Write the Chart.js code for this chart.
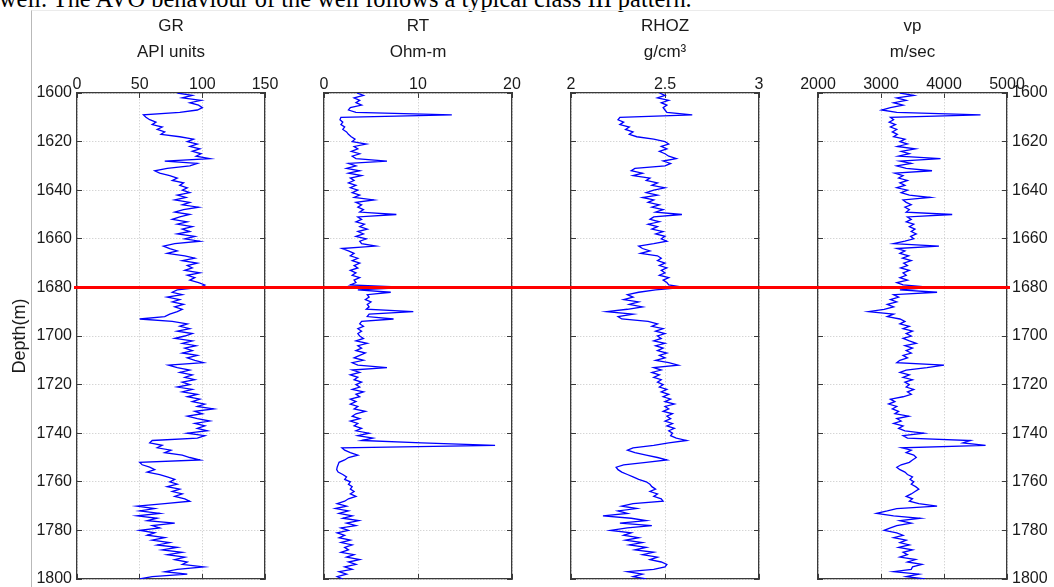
<!DOCTYPE html>
<html>
<head>
<meta charset="utf-8">
<script src="https://cdn.jsdelivr.net/npm/chart.js@4.4.0/dist/chart.umd.min.js"></script>
<style>
  html, body { margin: 0; padding: 0; background: #fff; overflow: hidden; }
  #page { position: relative; width: 1054px; height: 587px; overflow: hidden; }
  #caption { position: absolute; left: -1px; top: -13px; font: 24.4px "Liberation Serif", "Times New Roman", serif; line-height: 24px; white-space: nowrap; color: #000; }
  #frame { position: absolute; left: 31px; top: 10px; right: 0; bottom: 0; border-left: 1px solid #b9b9b9; border-top: 1px solid #ebebeb; }
  canvas { position: absolute; left: 0; top: 0; }
</style>
</head>
<body>
<div id="page">
  <div id="caption">well. The AVO behaviour of the well follows a typical class III pattern.</div>
  <div id="frame"></div>
  <canvas id="grChart" width="1054" height="587"></canvas>
  <canvas id="rtChart" width="1054" height="587"></canvas>
  <canvas id="rhozChart" width="1054" height="587"></canvas>
  <canvas id="vpChart" width="1054" height="587"></canvas>
  <canvas id="markerChart" width="1054" height="587"></canvas>
</div>
<script>
// depth samples: one value per metre from 1600 m
const depthStart = 1600;
const depthStep = 1;
const depthTicks = [1600, 1620, 1640, 1660, 1680, 1700, 1720, 1740, 1760, 1780, 1800];
const markerDepth = 1680;

const grTicks = [0, 50, 100, 150];
const rtTicks = [0, 10, 20];
const rhozTicks = [2, 2.5, 3];
const vpTicks = [2000, 3000, 4000, 5000];

const grValues = [
  80, 92, 84, 99, 90, 97, 100, 96, 82, 53,
  55, 58, 63, 60, 68, 64, 70, 67, 82, 93,
  88, 96, 90, 98, 92, 99, 95, 106, 70, 96,
  90, 72, 62, 66, 74, 80, 76, 85, 82, 88,
  84, 90, 80, 87, 78, 90, 84, 97, 85, 78,
  90, 82, 76, 88, 80, 92, 84, 90, 80, 94,
  86, 98, 78, 69, 74, 80, 72, 86, 94, 84,
  96, 88, 92, 86, 98, 88, 94, 90, 97, 102,
  98, 80, 76, 84, 72, 82, 76, 85, 78, 84,
  80, 74, 70, 50, 76, 88, 82, 90, 80, 92,
  86, 78, 92, 84, 95, 86, 92, 84, 96, 88,
  94, 101, 73, 80, 90, 82, 92, 86, 94, 84,
  90, 80, 92, 84, 96, 88, 98, 92, 102, 96,
  109, 94, 100, 88, 96, 106, 94, 102, 96, 104,
  88, 102, 96, 60, 58, 68, 64, 75, 70, 84,
  90, 98, 50, 52, 58, 62, 56, 66, 72, 78,
  74, 80, 72, 82, 76, 84, 78, 86, 90, 70,
  48, 62, 50, 66, 48, 64, 56, 78, 60, 66,
  50, 62, 56, 70, 60, 74, 64, 80, 68, 84,
  72, 86, 78, 88, 84, 101, 80, 70, 88, 60,
  50
];

const rtValues = [
  3.5, 4.2, 3.2, 3.8, 3.4, 4.0, 2.8, 2.6, 3.4, 13.6,
  1.8, 1.7, 2.0, 1.8, 2.2, 2.0, 2.4, 2.6, 2.9, 3.3,
  3.0, 4.5, 3.2, 3.6, 2.9, 3.8, 3.0, 3.4, 6.7, 2.6,
  3.4, 2.4, 3.8, 2.6, 4.0, 2.8, 3.2, 2.6, 3.4, 2.8,
  3.6, 3.0, 3.8, 3.2, 5.3, 3.4, 4.0, 3.6, 4.2, 3.8,
  7.7, 3.6, 4.0, 3.4, 4.3, 3.8, 4.6, 3.6, 4.2, 3.4,
  4.5, 3.8, 4.0, 5.5, 1.9, 2.6, 3.2, 2.8, 3.6, 3.0,
  3.8, 3.2, 3.6, 2.8, 3.4, 3.0, 3.8, 3.2, 3.4, 2.8,
  9.0, 3.6, 7.1, 4.6, 4.8, 4.4, 5.0, 4.6, 4.8, 4.5,
  9.5, 4.8, 4.6, 7.4, 4.0, 3.8, 4.2, 3.6, 4.0, 3.6,
  3.8, 4.2, 3.4, 4.6, 3.6, 4.0, 3.4, 4.4, 3.8, 3.2,
  4.2, 3.0, 3.6, 6.7, 3.0, 3.8, 2.8, 3.6, 3.2, 4.0,
  3.4, 3.8, 3.0, 4.2, 3.4, 3.8, 2.8, 3.4, 2.8, 3.6,
  3.2, 4.4, 3.4, 3.0, 3.8, 2.8, 3.6, 3.2, 4.0, 3.4,
  4.8, 3.6, 5.2, 4.0, 10.4, 18.2, 1.9, 2.2, 2.8, 3.6,
  2.6, 2.2, 1.6, 1.5, 1.4, 1.35, 1.5, 2.0, 2.4, 2.2,
  2.8, 2.6, 3.0, 2.8, 3.2, 2.8, 3.4, 2.6, 2.2, 1.4,
  2.4, 1.2, 2.6, 1.6, 3.0, 2.0, 3.7, 2.4, 3.4, 1.8,
  2.6, 1.4, 2.2, 1.6, 2.8, 1.8, 3.0, 2.2, 2.6, 1.8,
  3.2, 2.4, 3.8, 2.6, 3.4, 2.2, 3.0, 1.6, 2.4, 1.4,
  2.0
];

const rhozValues = [
  2.47, 2.50, 2.46, 2.52, 2.48, 2.51, 2.49, 2.50, 2.51, 2.645,
  2.26, 2.25, 2.28, 2.26, 2.31, 2.29, 2.33, 2.31, 2.35, 2.44,
  2.50, 2.52, 2.48, 2.51, 2.47, 2.50, 2.52, 2.56, 2.49, 2.53,
  2.50, 2.34, 2.32, 2.38, 2.33, 2.42, 2.40, 2.46, 2.43, 2.50,
  2.44, 2.40, 2.46, 2.38, 2.44, 2.41, 2.47, 2.43, 2.49, 2.45,
  2.59, 2.44, 2.42, 2.47, 2.41, 2.46, 2.43, 2.49, 2.45, 2.50,
  2.48, 2.51, 2.44, 2.36, 2.38, 2.42, 2.37, 2.46, 2.48, 2.46,
  2.50, 2.47, 2.51, 2.48, 2.50, 2.47, 2.52, 2.49, 2.51, 2.52,
  2.60, 2.45, 2.36, 2.30, 2.33, 2.28, 2.36, 2.31, 2.38, 2.30,
  2.19, 2.33, 2.25, 2.27, 2.41, 2.46, 2.43, 2.49, 2.45, 2.50,
  2.46, 2.48, 2.44, 2.50, 2.45, 2.49, 2.46, 2.51, 2.47, 2.50,
  2.45, 2.52, 2.57, 2.44, 2.48, 2.43, 2.47, 2.44, 2.48, 2.46,
  2.49, 2.47, 2.51, 2.48, 2.52, 2.49, 2.53, 2.50, 2.55, 2.50,
  2.52, 2.49, 2.54, 2.51, 2.53, 2.50, 2.54, 2.51, 2.55, 2.52,
  2.54, 2.53, 2.56, 2.615, 2.52, 2.44, 2.33, 2.30, 2.34, 2.40,
  2.46, 2.51, 2.40, 2.28, 2.24, 2.25, 2.27, 2.30, 2.33, 2.36,
  2.40, 2.42, 2.43, 2.45, 2.42, 2.46, 2.44, 2.48, 2.49, 2.33,
  2.27, 2.35, 2.25, 2.30, 2.17, 2.32, 2.40, 2.26, 2.43, 2.30,
  2.21, 2.32, 2.28, 2.36, 2.29, 2.38, 2.31, 2.40, 2.34, 2.44,
  2.38, 2.46, 2.42, 2.48, 2.51, 2.50, 2.44, 2.30, 2.38, 2.33,
  2.40
];

const vpValues = [
  3300, 3520, 3250, 3400, 3200, 3350, 3150, 3010, 3250, 4580,
  3150, 3200, 3130, 3230, 3150, 3250, 3180, 3260, 3200, 3380,
  3300, 3420, 3260, 3545, 3320, 3450, 3280, 3945, 3300, 3480,
  3250, 3400, 3810, 3220, 3350, 3280, 3420, 3300, 3380, 3250,
  3420, 3320, 3450, 3785, 3350, 3400, 3480, 3380, 3450, 3400,
  4130, 3420, 3480, 3400, 3520, 3450, 3540, 3480, 3560, 3470,
  3520, 3380, 3200, 3920, 3250, 3380, 3300, 3440, 3340, 3480,
  3360, 3420, 3310, 3450, 3350, 3400, 3300, 3420, 3250, 3350,
  3800, 3300, 3890, 3200, 3280, 3150, 3250, 3100, 3200, 3050,
  2800, 3200, 3100, 3300, 3380, 3300, 3450, 3350, 3500, 3400,
  3480, 3350, 3450, 3560, 3380, 3500, 3400, 3480, 3350, 3420,
  3300, 3250, 4000, 3730, 3400, 3300, 3450, 3350, 3500, 3380,
  3450, 3400, 3520, 3420, 3480, 3350, 3150, 3220, 3120, 3250,
  3180, 3280, 3220, 3440, 3250, 3320, 3200, 3350, 3280, 3380,
  3680, 3350, 3420, 4420, 4300, 4660, 3330, 3480, 3400, 3520,
  3560, 3500, 3450, 3320, 3250, 3300, 3380, 3420, 3500, 3460,
  3520, 3480, 3550, 3600, 3540, 3480, 3400, 3500, 3450, 3600,
  3890, 3250, 3100, 2930, 3200, 3625, 3300, 3480, 3250, 3150,
  3050, 3250, 3350, 3200, 3400, 3300, 3450, 3280, 3500, 3350,
  3420, 3300, 3550, 3420, 3650, 3500, 3480, 3200, 3600, 3400,
  3700
];

// page layout (pixels)
const W = 1054, H = 587;
const plotTop = 93, plotBottom = 579;

Chart.defaults.font.family = '"Liberation Sans", Arial, sans-serif';
Chart.defaults.color = '#1a1a1a';

const fixSize = size => scale => {
  if (scale.isHorizontal()) scale.height = size; else scale.width = size;
  scale.paddingLeft = scale.paddingRight = scale.paddingTop = scale.paddingBottom = 0;
};
const useTicks = list => scale => { scale.ticks = list.map(v => ({ value: v })); };

function makePanel(id, values, xTicks, title, left, right, labelSide) {
  const gridLines = { color: '#c4c4c4', lineWidth: 1, tickLength: -5, tickColor: '#3a3a3a', tickWidth: 1 };
  const border = { color: '#3a3a3a', width: 1.3, dash: [1, 2] };
  const tickFont = { size: 16 };
  const leftW = labelSide === 'left' ? 77 : 0;
  const rightW = labelSide === 'right' ? 42 : 0;
  const xMin = xTicks[0], xMax = xTicks[xTicks.length - 1];
  const yMin = depthTicks[0], yMax = depthTicks[depthTicks.length - 1];

  return new Chart(document.getElementById(id), {
    type: 'line',
    data: {
      datasets: [{
        data: values.map((v, i) => ({ x: v, y: depthStart + i * depthStep })),
        borderColor: '#0000ff',
        borderWidth: 1.3,
        pointRadius: 0,
        tension: 0
      }]
    },
    options: {
      indexAxis: 'y',
      responsive: false,
      animation: false,
      events: [],
      layout: { padding: { left: left - leftW, right: W - right - rightW, top: 0, bottom: H - plotBottom } },
      plugins: { legend: { display: false }, tooltip: { enabled: false } },
      scales: {
        x: {
          type: 'linear', position: 'top', min: xMin, max: xMax,
          afterBuildTicks: useTicks(xTicks), afterFit: fixSize(plotTop),
          grid: gridLines, border,
          ticks: { font: tickFont, padding: 4, maxRotation: 0, autoSkip: false, callback: v => String(v) },
          title: { display: true, text: title, font: { size: 17, lineHeight: 1.5 }, padding: { top: 14, bottom: 0 } }
        },
        xb: {
          type: 'linear', position: 'bottom', min: xMin, max: xMax,
          afterBuildTicks: useTicks(xTicks), afterFit: fixSize(0),
          grid: { ...gridLines, drawOnChartArea: false }, border,
          ticks: { display: false }
        },
        y: {
          type: 'linear', position: 'left', reverse: true, min: yMin, max: yMax,
          afterBuildTicks: useTicks(depthTicks), afterFit: fixSize(leftW),
          grid: gridLines, border,
          ticks: { display: labelSide === 'left', font: tickFont, padding: 10, autoSkip: false, callback: v => String(v) },
          title: { display: labelSide === 'left', text: 'Depth(m)', font: { size: 18 }, padding: { top: 9, bottom: 0 } }
        },
        yr: {
          type: 'linear', position: 'right', reverse: true, min: yMin, max: yMax,
          afterBuildTicks: useTicks(depthTicks), afterFit: fixSize(rightW),
          grid: { ...gridLines, drawOnChartArea: false }, border,
          ticks: { display: labelSide === 'right', font: tickFont, padding: 10, autoSkip: false, callback: v => String(v) }
        }
      }
    }
  });
}

makePanel('grChart', grValues, grTicks, ['GR', 'API units'], 77, 265, 'left');
makePanel('rtChart', rtValues, rtTicks, ['RT', 'Ohm-m'], 324, 512, 'none');
makePanel('rhozChart', rhozValues, rhozTicks, ['RHOZ', 'g/cm\u00b3'], 571, 759, 'none');
makePanel('vpChart', vpValues, vpTicks, ['vp', 'm/sec'], 818, 1007, 'right');

// red marker line across all tracks at the picked depth
new Chart(document.getElementById('markerChart'), {
  type: 'line',
  data: {
    datasets: [{
      data: [{ x: 0, y: markerDepth }, { x: 1, y: markerDepth }],
      borderColor: '#ff0000',
      borderWidth: 3,
      pointRadius: 0
    }]
  },
  options: {
    responsive: false,
    animation: false,
    events: [],
    layout: { padding: { left: 74, right: W - 1010, top: plotTop, bottom: H - plotBottom } },
    plugins: { legend: { display: false }, tooltip: { enabled: false } },
    scales: {
      x: { type: 'linear', display: false, min: 0, max: 1 },
      y: { type: 'linear', display: false, reverse: true, min: depthTicks[0], max: depthTicks[depthTicks.length - 1] }
    }
  }
});
</script>
</body>
</html>
